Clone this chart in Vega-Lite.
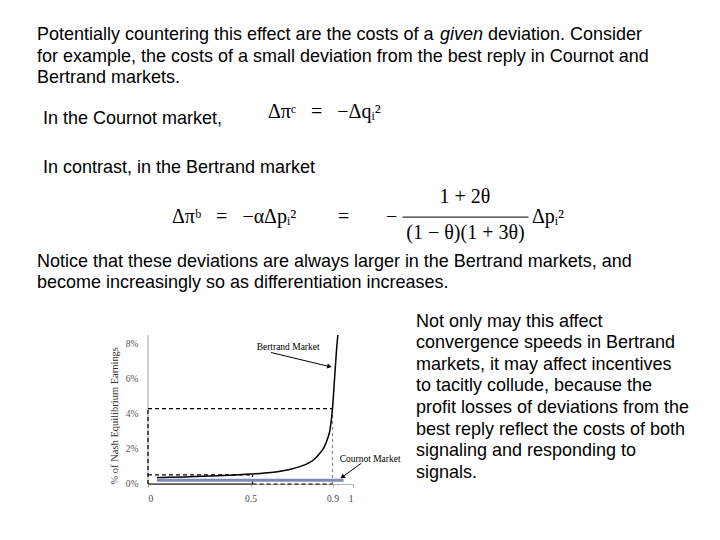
{
  "$schema": "https://vega.github.io/schema/vega-lite/v6.json",
  "background": "white",
  "padding": {"left": 37, "top": 25.6, "right": 0, "bottom": 0},
  "spacing": 0,
  "config": {
    "view": {"stroke": null},
    "font": "Liberation Sans",
    "text": {"font": "Liberation Sans", "fontSize": 18, "align": "left", "baseline": "top", "color": "black"}
  },
  "datasets": {
    "bertrand": [
      {"theta": 0.044, "loss": 0.0037},
      {"theta": 0.1, "loss": 0.0038},
      {"theta": 0.2, "loss": 0.0041},
      {"theta": 0.3, "loss": 0.0045},
      {"theta": 0.4, "loss": 0.005},
      {"theta": 0.5, "loss": 0.0057},
      {"theta": 0.6, "loss": 0.0066},
      {"theta": 0.66, "loss": 0.0076},
      {"theta": 0.7, "loss": 0.0085},
      {"theta": 0.74, "loss": 0.0099},
      {"theta": 0.78, "loss": 0.0118},
      {"theta": 0.81, "loss": 0.014},
      {"theta": 0.84, "loss": 0.0178},
      {"theta": 0.86, "loss": 0.0212},
      {"theta": 0.875, "loss": 0.0255},
      {"theta": 0.887, "loss": 0.0305},
      {"theta": 0.9, "loss": 0.043},
      {"theta": 0.91, "loss": 0.06},
      {"theta": 0.92, "loss": 0.077},
      {"theta": 0.926, "loss": 0.085}
    ],
    "cournot": [
      {"theta": 0.044, "loss": 0.0021},
      {"theta": 0.954, "loss": 0.0021}
    ],
    "guides": [
      {"x": 0, "x2": 0, "y": 0, "y2": 0.085, "kind": "axis"},
      {"x": 0, "x2": 0.9, "y": 0.043, "y2": 0.043, "kind": "dashed"},
      {"x": 0, "x2": 0, "y": 0, "y2": 0.043, "kind": "dashed"},
      {"x": 0.9, "x2": 0.9, "y": 0, "y2": 0.043, "kind": "dashed light"},
      {"x": 0.51, "x2": 0.9, "y": 0, "y2": 0, "kind": "dashed"},
      {"x": 0, "x2": 0.51, "y": 0.0052, "y2": 0.0052, "kind": "dashed"},
      {"x": 0.51, "x2": 0.51, "y": 0, "y2": 0.0052, "kind": "dashed"},
      {"x": 0, "x2": 0.51, "y": 0, "y2": 0, "kind": "solid"}
    ],
    "notes": [
      {"label": "Bertrand Market", "tx": 0.53, "ty": 0.078, "ax": 0.6, "ay": 0.075, "hx": 0.885, "hy": 0.067},
      {"label": "Cournot Market", "tx": 0.935, "ty": 0.014, "ax": 1.04, "ay": 0.0118, "hx": 0.948, "hy": 0.004}
    ]
  },
  "vconcat": [
    {
      "bounds": "flush",
      "spacing": 0,
      "hconcat": [
        {
          "width": 402.2, "height": 21.6,
          "data": {"values": [{"line": 1, "text": "Potentially countering this effect are the costs of a"}]},
          "mark": "text",
          "encoding": {
            "x": {"datum": 0, "type": "quantitative", "scale": {"domain": [0, 1]}, "axis": null},
            "y": {"field": "line", "type": "ordinal", "scale": {"type": "point", "align": 0}, "axis": null},
            "text": {"field": "text"}
          }
        },
        {
          "width": 48, "height": 21.6,
          "data": {"values": [{"line": 1, "text": "given"}]},
          "mark": {"type": "text", "fontStyle": "italic"},
          "encoding": {
            "x": {"datum": 0, "type": "quantitative", "scale": {"domain": [0, 1]}, "axis": null},
            "y": {"field": "line", "type": "ordinal", "scale": {"type": "point", "align": 0}, "axis": null},
            "text": {"field": "text"}
          }
        },
        {
          "width": 230, "height": 21.6,
          "data": {"values": [{"line": 1, "text": "deviation. Consider"}]},
          "mark": "text",
          "encoding": {
            "x": {"datum": 0, "type": "quantitative", "scale": {"domain": [0, 1]}, "axis": null},
            "y": {"field": "line", "type": "ordinal", "scale": {"type": "point", "align": 0}, "axis": null},
            "text": {"field": "text"}
          }
        }
      ]
    },
    {
      "width": 680, "height": 53.8,
      "data": {"values": [
        {"line": 1, "text": "for example, the costs of a small deviation from the best reply in Cournot and"},
        {"line": 2, "text": "Bertrand markets."}
      ]},
      "mark": "text",
      "encoding": {
        "x": {"datum": 0, "type": "quantitative", "scale": {"domain": [0, 1]}, "axis": null},
        "y": {"field": "line", "type": "ordinal", "scale": {"type": "point", "align": 0, "padding": 0.7454}, "axis": null},
        "text": {"field": "text"}
      }
    },
    {
      "bounds": "flush",
      "spacing": 0,
      "hconcat": [
        {
          "width": 225, "height": 56.6,
          "data": {"values": [{"line": 1, "text": "In the Cournot market,"}]},
          "mark": {"type": "text", "dx": 6},
          "encoding": {
            "x": {"datum": 0, "type": "quantitative", "scale": {"domain": [0, 1]}, "axis": null},
            "y": {"field": "line", "type": "ordinal", "scale": {"type": "point", "align": 0.1466}, "axis": null},
            "text": {"field": "text"}
          }
        },
        {
          "width": 200, "height": 56.6,
          "data": {"values": [{"line": 1, "text": "Δπᶜ \u2002=\u2002 −Δqᵢ²"}]},
          "mark": {"type": "text", "font": "Liberation Serif", "fontSize": 20, "dx": 6},
          "encoding": {
            "x": {"datum": 0, "type": "quantitative", "scale": {"domain": [0, 1]}, "axis": null},
            "y": {"field": "line", "type": "ordinal", "scale": {"type": "point", "align": 0}, "axis": null},
            "text": {"field": "text"}
          }
        }
      ]
    },
    {
      "width": 680, "height": 27.4,
      "data": {"values": [{"line": 1, "text": "In contrast, in the Bertrand market"}]},
      "mark": {"type": "text", "dx": 6},
      "encoding": {
        "x": {"datum": 0, "type": "quantitative", "scale": {"domain": [0, 1]}, "axis": null},
        "y": {"field": "line", "type": "ordinal", "scale": {"type": "point", "align": 0}, "axis": null},
        "text": {"field": "text"}
      }
    },
    {
      "bounds": "flush",
      "spacing": 0,
      "hconcat": [
        {
          "width": 135, "height": 65.8,
          "data": {"values": [{"text": ""}]},
          "mark": "text",
          "encoding": {"text": {"field": "text"}}
        },
        {
          "width": 166, "height": 65.8,
          "data": {"values": [{"line": 1, "text": "Δπᵇ \u2002=\u2002 −αΔpᵢ²"}]},
          "mark": {"type": "text", "font": "Liberation Serif", "fontSize": 20},
          "encoding": {
            "x": {"datum": 0, "type": "quantitative", "scale": {"domain": [0, 1]}, "axis": null},
            "y": {"field": "line", "type": "ordinal", "scale": {"type": "point", "align": 0.304}, "axis": null},
            "text": {"field": "text"}
          }
        },
        {
          "width": 48, "height": 65.8,
          "data": {"values": [{"line": 1, "text": "="}]},
          "mark": {"type": "text", "font": "Liberation Serif", "fontSize": 20},
          "encoding": {
            "x": {"datum": 0, "type": "quantitative", "scale": {"domain": [0, 1]}, "axis": null},
            "y": {"field": "line", "type": "ordinal", "scale": {"type": "point", "align": 0.304}, "axis": null},
            "text": {"field": "text"}
          }
        },
        {
          "width": 16, "height": 65.8,
          "data": {"values": [{"line": 1, "text": "−"}]},
          "mark": {"type": "text", "font": "Liberation Serif", "fontSize": 20},
          "encoding": {
            "x": {"datum": 0, "type": "quantitative", "scale": {"domain": [0, 1]}, "axis": null},
            "y": {"field": "line", "type": "ordinal", "scale": {"type": "point", "align": 0.304}, "axis": null},
            "text": {"field": "text"}
          }
        },
        {
          "width": 126, "height": 30,
          "data": {"values": [{"numerator": "1 + 2θ", "denominator": "(1 − θ)(1 + 3θ)"}]},
          "mark": {"type": "text", "font": "Liberation Serif", "fontSize": 20, "align": "center"},
          "encoding": {
            "x": {
              "field": "denominator",
              "type": "nominal",
              "axis": {
                "orient": "bottom",
                "title": null,
                "ticks": false,
                "tickSize": 0,
                "grid": false,
                "domain": true,
                "domainColor": "black",
                "domainWidth": 1,
                "labelAngle": 0,
                "labelFont": "Liberation Serif",
                "labelFontSize": 20,
                "labelColor": "black",
                "labelPadding": 6
              }
            },
            "y": {"field": "numerator", "type": "nominal", "scale": {"type": "point", "align": 0}, "axis": null},
            "text": {"field": "numerator"}
          }
        },
        {
          "width": 60, "height": 65.8,
          "data": {"values": [{"line": 1, "text": "Δpᵢ²"}]},
          "mark": {"type": "text", "font": "Liberation Serif", "fontSize": 20, "dx": 4},
          "encoding": {
            "x": {"datum": 0, "type": "quantitative", "scale": {"domain": [0, 1]}, "axis": null},
            "y": {"field": "line", "type": "ordinal", "scale": {"type": "point", "align": 0.304}, "axis": null},
            "text": {"field": "text"}
          }
        }
      ]
    },
    {
      "width": 680, "height": 60,
      "data": {"values": [
        {"line": 1, "text": "Notice that these deviations are always larger in the Bertrand markets, and"},
        {"line": 2, "text": "become increasingly so as differentiation increases."}
      ]},
      "mark": "text",
      "encoding": {
        "x": {"datum": 0, "type": "quantitative", "scale": {"domain": [0, 1]}, "axis": null},
        "y": {"field": "line", "type": "ordinal", "scale": {"type": "point", "align": 0, "padding": 0.889}, "axis": null},
        "text": {"field": "text"}
      }
    },
    {
      "bounds": "flush",
      "spacing": 0,
      "hconcat": [
        {
          "width": 110.7, "height": 171.4,
          "data": {"values": [{"text": ""}]},
          "mark": "text",
          "encoding": {"text": {"field": "text"}}
        },
        {
          "width": 205,
          "height": 171.4,
          "layer": [
            {
              "data": {"name": "guides"},
              "mark": {"type": "rule", "strokeWidth": 1.2},
              "encoding": {
                "x": {
                  "field": "x", "type": "quantitative", "title": null,
                  "scale": {"domain": [0, 1], "nice": false},
                  "axis": {
                    "values": [0, 0.5, 0.9, 1],
                    "format": "~g",
                    "grid": false,
                    "domainColor": "#b0b0b0",
                    "tickColor": "#b0b0b0",
                    "tickSize": 3,
                    "labelFont": "Liberation Serif",
                    "labelFontSize": 9.5,
                    "labelColor": "#444",
                    "labelPadding": 7
                  }
                },
                "x2": {"field": "x2"},
                "y": {
                  "field": "y", "type": "quantitative", "title": "% of Nash Equilibrium Earnings",
                  "scale": {"domain": [0, 0.09778], "nice": false},
                  "axis": {
                    "values": [0, 0.02, 0.04, 0.06, 0.08],
                    "format": ".0%",
                    "labelOverlap": false,
                    "grid": false,
                    "ticks": false,
                    "domain": false,
                    "labelFont": "Liberation Serif",
                    "labelFontSize": 9.5,
                    "labelColor": "#555",
                    "labelPadding": 10,
                    "titleFont": "Liberation Serif",
                    "titleFontSize": 10.5,
                    "titleFontWeight": "normal",
                    "titleColor": "#333",
                    "titleAnchor": "start",
                    "titlePadding": 6
                  }
                },
                "y2": {"field": "y2"},
                "strokeDash": {
                  "field": "kind", "type": "nominal", "legend": null,
                  "scale": {"domain": ["axis", "solid", "dashed", "dashed light"], "range": [[1, 0], [1, 0], [4, 3], [3, 3]]}
                },
                "color": {
                  "field": "kind", "type": "nominal", "legend": null,
                  "scale": {"domain": ["axis", "solid", "dashed", "dashed light"], "range": ["#b0b0b0", "black", "black", "#888888"]}
                }
              }
            },
            {
              "data": {"name": "cournot"},
              "mark": {"type": "line", "color": "#8088b8", "strokeWidth": 3},
              "encoding": {
                "x": {"field": "theta", "type": "quantitative", "title": null},
                "y": {"field": "loss", "type": "quantitative", "title": "% of Nash Equilibrium Earnings"}
              }
            },
            {
              "data": {"name": "bertrand"},
              "mark": {"type": "line", "color": "black", "strokeWidth": 1.5, "interpolate": "monotone"},
              "encoding": {
                "x": {"field": "theta", "type": "quantitative", "title": null},
                "y": {"field": "loss", "type": "quantitative", "title": "% of Nash Equilibrium Earnings"}
              }
            },
            {
              "data": {"name": "notes"},
              "mark": {"type": "rule", "color": "black", "strokeWidth": 1},
              "encoding": {
                "x": {"field": "ax", "type": "quantitative", "title": null},
                "y": {"field": "ay", "type": "quantitative", "title": "% of Nash Equilibrium Earnings"},
                "x2": {"field": "hx"},
                "y2": {"field": "hy"}
              }
            },
            {
              "data": {"name": "notes"},
              "mark": {"type": "point", "shape": "triangle-right", "filled": true, "color": "black", "size": 28, "opacity": 1},
              "encoding": {
                "x": {"field": "hx", "type": "quantitative", "title": null},
                "y": {"field": "hy", "type": "quantitative", "title": "% of Nash Equilibrium Earnings"},
                "angle": {
                  "condition": {"test": "datum.label === 'Bertrand Market'", "value": 13.5},
                  "value": 143
                }
              }
            },
            {
              "data": {"name": "notes"},
              "mark": {"type": "text", "align": "left", "baseline": "middle", "font": "Liberation Serif", "fontSize": 9.5, "color": "black"},
              "encoding": {
                "x": {"field": "tx", "type": "quantitative", "title": null},
                "y": {"field": "ty", "type": "quantitative", "title": "% of Nash Equilibrium Earnings"},
                "text": {"field": "label"}
              }
            }
          ]
        },
        {
          "width": 62.3, "height": 171.4,
          "data": {"values": [{"text": ""}]},
          "mark": "text",
          "encoding": {"text": {"field": "text"}}
        },
        {
          "width": 300, "height": 171.4,
          "data": {"values": [
            {"line": 1, "text": "Not only may this affect"},
            {"line": 2, "text": "convergence speeds in  Bertrand"},
            {"line": 3, "text": "markets, it may affect incentives"},
            {"line": 4, "text": "to tacitly collude, because the"},
            {"line": 5, "text": "profit losses of deviations from the"},
            {"line": 6, "text": "best reply reflect the costs of both"},
            {"line": 7, "text": "signaling and responding to"},
            {"line": 8, "text": "signals."}
          ]},
          "mark": "text",
          "encoding": {
            "x": {"datum": 0, "type": "quantitative", "scale": {"domain": [0, 1]}, "axis": null},
            "y": {"field": "line", "type": "ordinal", "scale": {"type": "point", "align": 0, "padding": 0.4676}, "axis": null},
            "text": {"field": "text"}
          }
        }
      ]
    }
  ]
}
